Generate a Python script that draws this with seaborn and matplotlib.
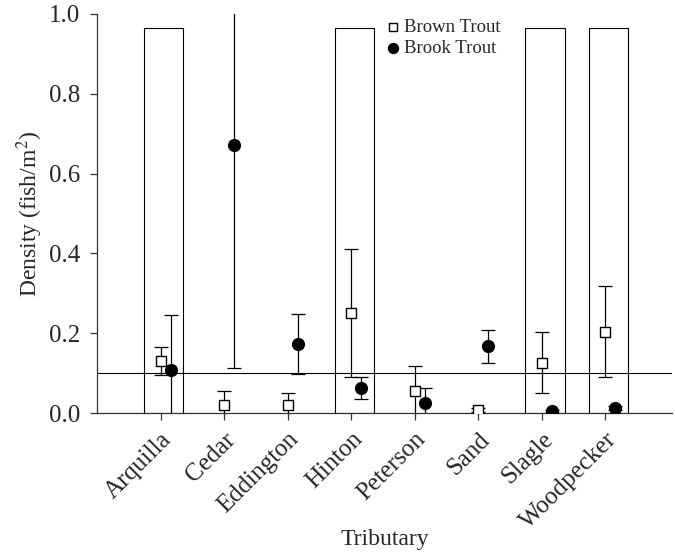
import numpy as np
import pandas as pd
import matplotlib
matplotlib.use("Agg")
import matplotlib.pyplot as plt
import seaborn as sns

# ---- data ----
tributaries = ["Arquilla", "Cedar", "Eddington", "Hinton", "Peterson", "Sand", "Slagle", "Woodpecker"]

brown_mean = [0.130, 0.020, 0.019, 0.251, 0.054, 0.008, 0.125, 0.204]
brown_low = [0.095, -0.02, -0.02, 0.091, -0.02, 0.003, 0.049, 0.090]
brown_high = [0.165, 0.056, 0.050, 0.411, 0.119, 0.013, 0.202, 0.319]

brook_mean = [0.107, 0.671, 0.173, 0.062, 0.025, 0.167, 0.004, 0.013]
brook_low = [-0.03, 0.113, 0.098, 0.034, -0.02, 0.125, 0.001, 0.008]
brook_high = [0.246, 1.05, 0.248, 0.090, 0.063, 0.208, 0.007, 0.018]

bar_tributaries = ["Arquilla", "Hinton", "Slagle", "Woodpecker"]
bar_heights = [0.964, 0.964, 0.964, 0.964]

reference_line = 0.1

# ---- style ----
sns.set_theme(style="ticks")
plt.rcParams["font.family"] = ["Liberation Serif", "DejaVu Serif"]
plt.rcParams["mathtext.fontset"] = "stix"

fig = plt.figure(figsize=(6.75, 5.56), dpi=100)
ax = fig.add_axes([97 / 675, 1 - 413 / 556, (672 - 97) / 675, (413 - 14) / 556])

idx = {t: i for i, t in enumerate(tributaries)}
xpos = np.arange(len(tributaries))

# empty bars
bar_x = [idx[t] + 0.05 for t in bar_tributaries]
ax.bar(bar_x, bar_heights, width=0.62, facecolor="none", edgecolor="black",
       linewidth=0.8, zorder=1)

# reference line
ax.axhline(reference_line, color="black", linewidth=0.8, zorder=2)

# brown trout (squares at tick), brook trout (circles right of tick)
bx = xpos.astype(float)
kx = xpos + 0.16

bm = np.array(brown_mean)
km = np.array(brook_mean)
ax.errorbar(bx, bm, yerr=[bm - np.array(brown_low), np.array(brown_high) - bm],
            fmt="none", ecolor="black", elinewidth=0.9, capsize=5, capthick=0.9, zorder=3)
ax.errorbar(kx, km, yerr=[km - np.array(brook_low), np.array(brook_high) - km],
            fmt="none", ecolor="black", elinewidth=0.9, capsize=5, capthick=0.9, zorder=3)

df_brown = pd.DataFrame({"x": bx, "y": bm})
df_brook = pd.DataFrame({"x": kx, "y": km})
sns.scatterplot(data=df_brown, x="x", y="y", marker="s", s=55, color="white",
                edgecolor="black", linewidth=1.0, ax=ax, zorder=4, label="Brown Trout")
sns.scatterplot(data=df_brook, x="x", y="y", marker="o", s=75, color="black",
                edgecolor="black", linewidth=0.8, ax=ax, zorder=4, label="Brook Trout")

ax.set_xlim(-1, 8.05)
ax.set_ylim(0, 1.0)
ax.set_xticks(xpos)
ax.set_xticklabels(tributaries, rotation=45, ha="right", rotation_mode="anchor", fontsize=18)
ax.set_yticks([0.0, 0.2, 0.4, 0.6, 0.8, 1.0])
ax.set_yticklabels(["0.0", "0.2", "0.4", "0.6", "0.8", "1.0"], fontsize=18)
ax.tick_params(axis="both", direction="out", length=5, width=0.9, color="#333333", pad=6)
ax.tick_params(axis="y", pad=7)

for s in ["top", "right"]:
    ax.spines[s].set_visible(False)
for s in ["left", "bottom"]:
    ax.spines[s].set_color("#333333")
    ax.spines[s].set_linewidth(0.9)

ax.set_xlabel("Tributary", fontsize=17)
ax.xaxis.set_label_coords(0.5, -0.29)
ax.set_ylabel("Density (fish/m$^2$)", fontsize=17, labelpad=3)

leg = ax.legend(loc="upper left", bbox_to_anchor=(0.476, 1.02), frameon=False,
                fontsize=13.5, handletextpad=0.1, borderpad=0.2, labelspacing=0.2,
                handlelength=1.0, markerscale=0.85)

fig.savefig("out.png", dpi=100)
